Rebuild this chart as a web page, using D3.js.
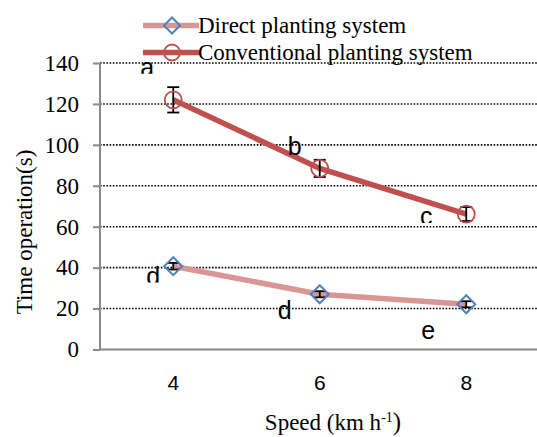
<!DOCTYPE html>
<html><head><meta charset="utf-8">
<script src="https://cdn.jsdelivr.net/npm/d3@7"></script>
<style>body{margin:0;background:#fff}svg{display:block}</style>
</head><body>
<svg id="c" width="537" height="437"></svg>
<script>
const categories = ["4", "6", "8"];
const yTicks = [0, 20, 40, 60, 80, 100, 120, 140];
const seriesNames = ["Direct planting system", "Conventional planting system"];
const directValues = [40.7, 27, 22.1];
const directErrors = [1.6, 1.5, 1.5];
const conventionalValues = [122, 88.5, 66.2];
const conventionalErrors = [6.2, 4.2, 3.4];
// significance letters
const labelTexts = ["a", "b", "c", "d", "d", "e"];
const labelCats = ["4", "6", "8", "4", "6", "8"];
const labelValues = [133.5, 95, 60.6, 31.5, 15, 5.3];

const layout = {
  labelDx: [-26, -25, -40, -20, -35, -38],
  labelClip: [true, false, true, true, false, false]
};

const SERIF = "'Liberation Serif', 'Times New Roman', serif";
const SANS = "'Liberation Sans', Arial, sans-serif";

const svg = d3.select("#c");
const x = d3.scalePoint().domain(categories).range([100, 539.5]).padding(0.5);
const y = d3.scaleLinear().domain([0, 140]).range([349.5, 63]);

const gray = "#898989";
const redC = "#C0504D", pinkC = "#D99694", blueC = "#4F81BD";

// gridlines
svg.append("g").selectAll("line").data(yTicks.filter(d => d > 0)).join("line")
  .attr("x1", 100).attr("x2", 537).attr("y1", d => y(d)).attr("y2", d => y(d))
  .attr("stroke", "#000").attr("stroke-width", 1.6).attr("stroke-dasharray", "1.6,1.6");

// y axis
const yAxis = d3.axisLeft(y).tickValues(yTicks).tickSize(7).tickFormat(() => "");
const gy = svg.append("g").attr("transform", "translate(100,0)").call(yAxis);
gy.select(".domain").attr("stroke", gray).attr("stroke-width", 2).attr("d", `M0,${y(140)}V${y(0)}`);
gy.selectAll(".tick line").attr("stroke", gray).attr("stroke-width", 2);
svg.append("g").selectAll("text").data(yTicks).join("text")
  .attr("x", 79).attr("y", d => y(d)).attr("dy", "0.34em").attr("text-anchor", "end")
  .style("font-family", SERIF).style("font-size", "23px").attr("fill", "#000")
  .text(d => d);

// x axis
const xAxis = d3.axisBottom(x).tickSize(0).tickFormat(() => "");
const gx = svg.append("g").attr("transform", `translate(0,${y(0)})`).call(xAxis);
gx.select(".domain").attr("stroke", gray).attr("stroke-width", 2).attr("d", `M100,0H537`);
svg.append("g").selectAll("text").data(categories).join("text")
  .attr("x", d => x(d)).attr("y", y(0) + 40).attr("text-anchor", "middle")
  .style("font-family", SANS).style("font-size", "21px").attr("fill", "#000")
  .text(d => d);

// axis titles
svg.append("text").attr("transform", `translate(32,232) rotate(-90)`)
  .attr("text-anchor", "middle").style("font-family", SERIF)
  .style("font-size", "23px").text("Time operation(s)");
const xt = svg.append("text").attr("x", 333).attr("y", 430).attr("text-anchor", "middle")
  .style("font-family", SERIF).style("font-size", "23px");
xt.append("tspan").text("Speed (km h");
xt.append("tspan").attr("dy", -8).style("font-size", "14px").text("-1");
xt.append("tspan").attr("dy", 8).style("font-size", "25px").text(")");

// lines
const lineGen = d3.line().x((d, i) => x(categories[i])).y(d => y(d));
svg.append("path").datum(directValues).attr("d", lineGen).attr("fill", "none")
  .attr("stroke", pinkC).attr("stroke-width", 5.5);
svg.append("path").datum(conventionalValues).attr("d", lineGen).attr("fill", "none")
  .attr("stroke", redC).attr("stroke-width", 5.5);

// error bars
function errorBars(vals, errs) {
  const g = svg.append("g").attr("stroke", "#000").attr("stroke-width", 1.8);
  vals.forEach((v, i) => {
    const cx = x(categories[i]);
    g.append("line").attr("x1", cx).attr("x2", cx).attr("y1", y(v - errs[i])).attr("y2", y(v + errs[i]));
    g.append("line").attr("x1", cx - 6).attr("x2", cx + 6).attr("y1", y(v - errs[i])).attr("y2", y(v - errs[i]));
    g.append("line").attr("x1", cx - 6).attr("x2", cx + 6).attr("y1", y(v + errs[i])).attr("y2", y(v + errs[i]));
  });
}
errorBars(directValues, directErrors);
errorBars(conventionalValues, conventionalErrors);

// markers
const diamond = (cx, cy, r) => `M${cx},${cy - r}L${cx + r},${cy}L${cx},${cy + r}L${cx - r},${cy}Z`;
svg.append("g").selectAll("path").data(directValues).join("path")
  .attr("d", (d, i) => diamond(x(categories[i]), y(d), 9))
  .attr("fill", "none").attr("stroke", blueC).attr("stroke-width", 2);
svg.append("g").selectAll("circle").data(conventionalValues).join("circle")
  .attr("cx", (d, i) => x(categories[i])).attr("cy", d => y(d)).attr("r", 8.5)
  .attr("fill", "none").attr("stroke", redC).attr("stroke-width", 1.8);

// significance letters
const defs = svg.append("defs");
labelTexts.forEach((t, i) => {
  const lx = x(labelCats[i]) + layout.labelDx[i];
  const ly = y(labelValues[i]);
  const tx = svg.append("text").attr("x", lx).attr("y", ly).attr("text-anchor", "middle")
    .style("font-family", SANS).style("font-size", "25px").text(t);
  if (layout.labelClip[i]) {
    defs.append("clipPath").attr("id", "clip" + i).append("rect")
      .attr("x", lx - 20).attr("y", ly - 40).attr("width", 40).attr("height", 37.5);
    tx.attr("clip-path", `url(#clip${i})`);
  }
});

// legend
const legend = svg.append("g");
const legY = [25.5, 52.5];
const legTextY = [33, 60];
seriesNames.forEach((name, i) => {
  legend.append("line").attr("x1", 143).attr("x2", 199).attr("y1", legY[i]).attr("y2", legY[i])
    .attr("stroke", i === 0 ? pinkC : redC).attr("stroke-width", 5.5);
  if (i === 0) {
    legend.append("path").attr("d", diamond(172, legY[i], 8)).attr("fill", "none")
      .attr("stroke", blueC).attr("stroke-width", 2);
  } else {
    legend.append("circle").attr("cx", 172).attr("cy", legY[i]).attr("r", 8)
      .attr("fill", "none").attr("stroke", redC).attr("stroke-width", 1.8);
  }
  legend.append("text").attr("x", 198).attr("y", legTextY[i])
    .style("font-family", SERIF).style("font-size", "23px").text(name);
});
</script>
</body></html>
